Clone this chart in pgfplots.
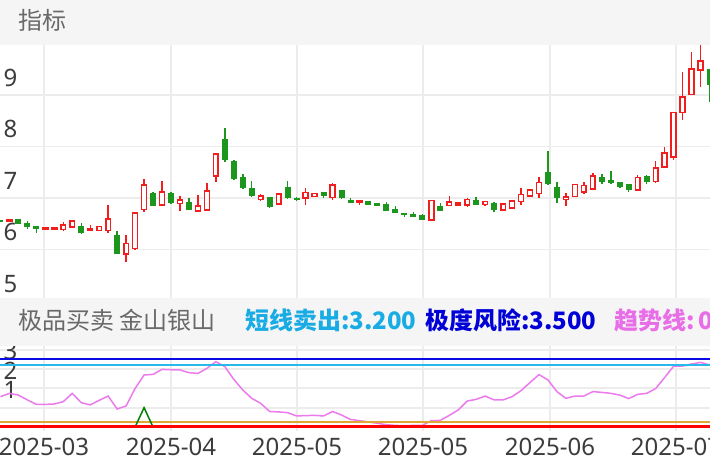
\documentclass[border=0pt]{standalone}
\usepackage{fontspec}
\setmainfont{Noto Sans}
\newfontfamily\cjk{Noto Sans CJK SC}
\usepackage{pgfplots}
\usepackage{pgfplotstable}
\pgfplotsset{compat=1.18}

\definecolor{bandgray}{RGB}{245,245,245}
\definecolor{gridgray}{RGB}{236,236,236}
\definecolor{labgray}{RGB}{60,60,60}
\definecolor{hdrgray}{RGB}{105,105,105}
\definecolor{cred}{RGB}{242,30,30}
\definecolor{cgreen}{RGB}{28,150,28}
\definecolor{cviolet}{RGB}{236,122,236}
\definecolor{ccyan}{RGB}{40,185,235}
\definecolor{cblue}{RGB}{10,10,230}
\definecolor{corange}{RGB}{222,168,50}
\definecolor{lred}{RGB}{255,0,0}
\definecolor{lgreen}{RGB}{0,130,0}
\definecolor{tcyan}{RGB}{25,172,228}
\definecolor{tblue}{RGB}{0,0,215}
\definecolor{tviolet}{RGB}{232,110,232}

% day index, open, high, low, close
\pgfplotstableread{
x o h l c
1 6.55 6.57 6.55 6.57
5 6.40 6.43 6.39 6.42
6 6.40 6.43 6.38 6.42
7 6.39 6.53 6.35 6.47
8 6.44 6.56 6.44 6.55
10 6.37 6.47 6.37 6.40
11 6.37 6.45 6.37 6.45
12 6.37 6.86 6.33 6.59
14 5.91 6.29 5.76 6.12
15 6.02 6.72 5.99 6.715
16 6.78 7.36 6.72 7.25
18 6.87 7.34 6.85 7.12
20 6.90 7.04 6.75 6.96
22 6.75 7.06 6.75 6.85
23 6.77 7.29 6.77 7.14
24 7.43 7.86 7.32 7.855
29 6.98 7.08 6.95 7.04
31 6.88 7.10 6.86 7.08
34 7.00 7.19 6.87 7.11
35 7.03 7.10 7.02 7.09
37 7.01 7.30 6.96 7.25
40 6.91 6.96 6.87 6.94
48 6.57 6.96 6.57 6.95
50 6.86 7.03 6.85 6.92
51 6.87 6.93 6.85 6.90
52 6.87 7.01 6.83 6.97
54 6.89 6.94 6.85 6.93
56 6.77 6.89 6.76 6.88
57 6.81 6.95 6.80 6.94
58 6.93 7.19 6.86 7.07
59 7.04 7.16 7.03 7.15
60 7.09 7.40 7.00 7.30
63 6.98 7.10 6.85 7.02
64 7.03 7.27 7.02 7.26
65 7.12 7.31 7.07 7.24
66 7.18 7.49 7.16 7.43
71 7.16 7.45 7.15 7.40
73 7.32 7.71 7.29 7.58
74 7.60 8.00 7.58 7.87
75 7.80 8.66 7.74 8.66
76 8.66 9.45 8.51 8.96
77 9.01 9.84 9.00 9.50
78 9.49 9.97 9.16 9.66
}\upk

\pgfplotstableread{
x o h l c
0 6.56 6.56 6.54 6.54
2 6.59 6.59 6.49 6.49
3 6.52 6.55 6.40 6.44
4 6.46 6.46 6.33 6.39
9 6.46 6.51 6.30 6.33
13 6.28 6.36 5.91 5.91
17 7.09 7.11 6.84 6.85
19 7.09 7.12 6.88 6.91
21 6.93 7.00 6.77 6.77
25 8.15 8.35 7.70 7.74
26 7.72 7.74 7.35 7.36
27 7.41 7.47 7.18 7.19
28 7.19 7.33 7.02 7.03
30 7.01 7.02 6.80 6.82
32 7.22 7.34 6.99 7.00
33 6.99 7.01 6.95 6.97
36 7.12 7.12 7.00 7.03
38 7.15 7.16 6.99 7.00
39 6.97 7.00 6.90 6.90
41 6.94 6.94 6.87 6.87
42 6.89 6.89 6.86 6.86
43 6.88 6.93 6.75 6.75
44 6.79 6.85 6.70 6.70
45 6.70 6.70 6.63 6.68
46 6.67 6.72 6.65 6.65
47 6.67 6.68 6.57 6.57
49 6.85 6.90 6.74 6.75
53 6.96 7.01 6.86 6.87
55 6.91 6.92 6.72 6.77
61 7.51 7.92 7.25 7.27
62 7.22 7.31 6.91 7.01
67 7.40 7.46 7.27 7.31
68 7.35 7.53 7.28 7.29
69 7.31 7.31 7.19 7.22
70 7.27 7.28 7.12 7.16
72 7.43 7.44 7.27 7.32
79 9.50 9.50 8.87 9.19
}\downk

\pgfplotstableread{
x v
0 1.57
1 1.74
2 1.65
3 1.40
4 1.17
5 1.17
6 1.19
7 1.31
8 1.74
9 1.26
10 1.14
11 1.38
12 1.60
13 0.93
14 1.09
15 1.99
16 2.69
17 2.72
18 2.98
19 2.96
20 2.95
21 2.81
22 2.77
23 3.03
24 3.38
25 3.12
26 2.46
27 1.91
28 1.48
29 1.22
30 0.80
31 0.78
32 0.74
33 0.57
34 0.59
35 0.60
36 0.57
37 0.80
38 0.62
39 0.39
40 0.33
41 0.26
42 0.19
43 0.12
44 0.08
45 0.07
46 0.08
47 0.08
48 0.33
49 0.34
50 0.60
51 0.88
52 1.34
53 1.43
54 1.60
55 1.40
56 1.40
57 1.57
58 1.88
59 2.30
60 2.71
61 2.43
62 1.83
63 1.48
64 1.60
65 1.60
66 1.83
67 1.79
68 1.74
69 1.65
70 1.47
71 1.69
72 1.74
73 1.99
74 2.56
75 3.15
76 3.15
77 3.26
78 3.34
79 3.21
}\trend

\pgfplotsset{
  panel/.style={
    width=710bp, scale only axis, xmin=-0.05, xmax=79.05,
    axis line style={draw=none}, major tick length=0pt,
    grid=major, major grid style={draw=gridgray, line width=1.8bp},
    xtick={4.85,19.0,33.04,47.08,61.22,75.26},
    /pgf/number format/assume math mode=true,
    tick label style={font=\fontsize{24bp}{28bp}\selectfont, text=labgray},
    yticklabel style={anchor=base west},
  },
}

\begin{document}
\begin{tikzpicture}
\useasboundingbox (0bp,0bp) rectangle (710bp,473bp);
\fill[white] (0bp,0bp) rectangle (710bp,473bp);

% price panel
\begin{scope}[shift={(0bp,171bp)}]
\begin{axis}[panel, at={(0bp,0bp)}, anchor=south west, height=257bp,
  ymin=4.981, ymax=9.971, ytick={5,6,7,8,9}, xticklabels={,,,,,},
  yticklabel style={yshift=9bp}]
  % wicks
  \addplot[draw=none, forget plot, error bars/.cd, y dir=both, y explicit, error mark=none,
    error bar style={draw=cred, line width=1.4bp}]
    table[x=x, y expr={(\thisrow{h}+\thisrow{l})/2}, y error expr={(\thisrow{h}-\thisrow{l})/2}] {\upk};
  \addplot[draw=none, forget plot, error bars/.cd, y dir=both, y explicit, error mark=none,
    error bar style={draw=cgreen, line width=1.4bp}]
    table[x=x, y expr={(\thisrow{h}+\thisrow{l})/2}, y error expr={(\thisrow{h}-\thisrow{l})/2}] {\downk};
  % bodies
  \addplot[draw=none, forget plot, error bars/.cd, y dir=both, y explicit, error mark=none,
    error bar style={draw=cred, line width=6.4bp}]
    table[x=x, y expr={(\thisrow{o}+\thisrow{c})/2}, y error expr={abs(\thisrow{c}-\thisrow{o})/2+0.016}] {\upk};
  \addplot[draw=none, forget plot, error bars/.cd, y dir=both, y explicit, error mark=none,
    error bar style={draw=white, line width=3.2bp}]
    table[x=x, y expr={(\thisrow{o}+\thisrow{c})/2}, y error expr={max(abs(\thisrow{c}-\thisrow{o})/2-0.016,0)}] {\upk};
  \addplot[draw=none, forget plot, error bars/.cd, y dir=both, y explicit, error mark=none,
    error bar style={draw=cgreen, line width=6bp}]
    table[x=x, y expr={(\thisrow{o}+\thisrow{c})/2}, y error expr={max(abs(\thisrow{c}-\thisrow{o})/2,0.022)}] {\downk};
\end{axis}
\end{scope}

% indicator panel
\begin{scope}[shift={(0bp,42bp)}]
\begin{axis}[panel, at={(0bp,0bp)}, anchor=south west, height=85bp,
  ymin=-0.207, ymax=4.188, ytick={1,2,3,4},
  yticklabel style={yshift=9bp},
  xticklabels={2025-03,2025-04,2025-05,2025-05,2025-06,2025-07},
  xticklabel style={anchor=base, yshift=-25bp}]
  \addplot[cviolet, line width=1.5bp] table[x=x, y=v] {\trend};
  \addplot[corange, line width=1.7bp] coordinates {(-1,0.27) (80,0.27)};
  \addplot[lgreen, line width=1.5bp] coordinates {(15,0) (16,1.0) (17,0)};
  \addplot[cblue, line width=1.8bp] coordinates {(-1,3.5) (80,3.5)};
  \addplot[ccyan, line width=1.8bp] coordinates {(-1,3.2) (80,3.2)};
  \addplot[lred, line width=3bp] coordinates {(-1,0) (80,0)};
\end{axis}
\end{scope}

% header bands
\fill[bandgray] (0bp,428bp) rectangle (710bp,473bp);
\fill[bandgray] (0bp,127bp) rectangle (710bp,175bp);
\node[anchor=base west, inner sep=0, text=hdrgray, font=\cjk\fontsize{24bp}{28bp}\selectfont] at (18bp,443bp) {指标};
\node[anchor=base west, inner sep=0, text=hdrgray, font=\cjk\fontsize{24bp}{28bp}\selectfont] at (18bp,143bp) {极品买卖 金山银山};
\node[anchor=base west, inner sep=0, text=tcyan, font=\cjk\bfseries\fontsize{24bp}{28bp}\selectfont] at (245bp,143bp) {短线卖出:3.200};
\node[anchor=base west, inner sep=0, text=tblue, font=\cjk\bfseries\fontsize{24bp}{28bp}\selectfont] at (425bp,143bp) {极度风险:3.500};
\node[anchor=base west, inner sep=0, text=tviolet, font=\cjk\bfseries\fontsize{24bp}{28bp}\selectfont] at (614bp,143bp) {趋势线:\hspace{4bp}0.000};
\end{tikzpicture}
\end{document}
